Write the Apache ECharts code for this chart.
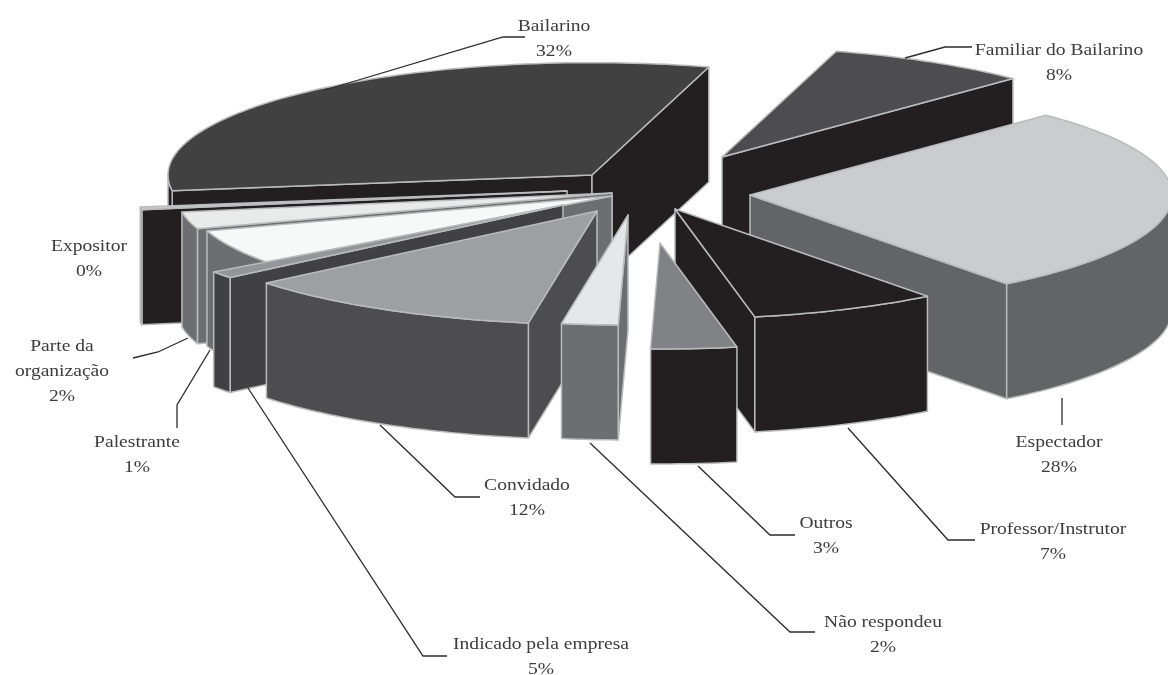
<!DOCTYPE html>
<html><head><meta charset="utf-8">
<style>html,body{margin:0;padding:0;background:#fff}#c{width:1168px;height:675px}</style>
<script src="https://cdn.jsdelivr.net/npm/echarts@6/dist/echarts.min.js"></script>
</head><body><div id="c"></div>
<script>
// ---- data, clockwise round the pie from the right edge of "Bailarino" ----
const categories = ['Familiar do Bailarino','Espectador','Professor/Instrutor','Outros','Não respondeu','Convidado','Palestrante','Indicado pela empresa','Parte da organização','Expositor','Bailarino'];
const values     = [8, 27.5, 7.4, 3.49, 2.21, 11.6, 1, 5, 2.4, 0.4, 32];

// ---- styling of each slice ----
const topColors  = ['#4d4d4f','#cbccce','#231f20','#808285','#e6e7e8','#9d9fa2','#939598','#f7f9f9','#e9ebea','#c8c9ca','#414142'];
const wallColors = ['#231f20','#636466','#231f20','#231f20','#6d6e71','#4d4d4f','#414042','#6d6e71','#6d6e71','#231f20','#231f20'];
const explodeX   = [97, 125, 50, 35, 3, -28, -62, -13, -13, -58, -33];
const explodeY   = [-38, 0, 14, 48, 20, 16, 10, 1, -2, -4, -20];
const radii      = [415, 422, 415, 400, 415, 428, 431, 426, 436, 431, 424];
const drawOrder  = [10, 0, 1, 2, 9, 8, 7, 6, 5, 4, 3];
const startAngle = 74, squash = 0.265, depth = 115;
const centreX = 625, centreY = 195;
const edgeColor = '#b9bbbd';

// ---- label layout ----
const labelLines = [
  ['Familiar do Bailarino','8%'],['Espectador','28%'],['Professor/Instrutor','7%'],['Outros','3%'],['Não respondeu','2%'],
  ['Convidado','12%'],['Palestrante','1%'],['Indicado pela empresa','5%'],['Parte da','organização','2%'],['Expositor','0%'],['Bailarino','32%']
];
const labelAnchors = [[1059,51],[1059,443],[1053,530],[826,524],[883,623],[527,486],[137,443],[541,645],[62,347],[89,247],[554,27]];
const leaders = [
  [[905,58],[945,47],[972,47]],
  [[1062,398],[1062,425]],
  [[848,428],[948,540],[975,540]],
  [[698,466],[770,535],[795,535]],
  [[590,443],[790,632],[815,632]],
  [[380,425],[455,497],[480,497]],
  [[210,350],[177,405],[177,428]],
  [[248,388],[423,656],[447,656]],
  [[188,338],[158,352],[133,358]],
  [],
  [[325,90],[503,37],[525,37]]
];

const total = values.reduce((a,b)=>a+b,0);
const ranges = []; let cursor = startAngle;
values.forEach(v=>{ const next = cursor - v/total*360; ranges.push([cursor,next]); cursor = next; });

function rim(i,deg,drop){
  const a = deg*Math.PI/180;
  return [centreX+explodeX[i]+radii[i]*Math.cos(a), centreY+explodeY[i]-radii[i]*squash*Math.sin(a)+(drop||0)];
}
function arc(i,a0,a1,drop){
  const n = Math.max(2,Math.ceil(Math.abs(a1-a0)/1.5)), p=[];
  for(let k=0;k<=n;k++) p.push(rim(i,a0+(a1-a0)*k/n,drop));
  return p;
}
function poly(points,fill,w){
  return {type:'polygon',shape:{points},style:{fill,stroke:edgeColor,lineWidth:w===undefined?1.5:w,lineJoin:'round'}};
}
function visibleFront(a0,a1){
  const parts=[];
  for(let b=-720;b<=360;b+=360){
    const hi=Math.min(a0,b), lo=Math.max(a1,b-180);
    if(hi>lo) parts.push([hi,lo]);
  }
  return parts;
}
function sliceShapes(i){
  const [a0,a1]=ranges[i], apex=[centreX+explodeX[i],centreY+explodeY[i]], apexLow=[apex[0],apex[1]+depth];
  const kids=[], wall=wallColors[i];
  if(Math.sin((a0+90)*Math.PI/180)<0) kids.push(poly([apex,rim(i,a0),rim(i,a0,depth),apexLow],wall));
  if(Math.sin((a1-90)*Math.PI/180)<0) kids.push(poly([apex,rim(i,a1),rim(i,a1,depth),apexLow],wall));
  visibleFront(a0,a1).forEach(([h,l])=>{
    kids.push(poly(arc(i,h,l,0).concat(arc(i,l,h,depth)),wall));
  });
  kids.push(poly([apex].concat(arc(i,a0,a1,0)),topColors[i]));
  return kids;
}

const chart = echarts.init(document.getElementById('c'),null,{renderer:'canvas'});
chart.setOption({
  animation:false,
  backgroundColor:'#ffffff',
  series:[
    {
      type:'custom',coordinateSystem:'none',silent:true,
      data:drawOrder.map(i=>({name:categories[i],value:[values[i],i]})),
      renderItem:(params,api)=>({type:'group',children:sliceShapes(api.value(1))})
    },
    {
      type:'custom',coordinateSystem:'none',silent:true,
      data:categories.map((c,i)=>({name:c,value:[values[i],i]})),
      renderItem:(params,api)=>{
        const i=api.value(1), kids=[];
        if(leaders[i].length) kids.push({type:'polyline',shape:{points:leaders[i]},style:{fill:null,stroke:'#2b2b2b',lineWidth:1.3}});
        labelLines[i].forEach((t,k)=>kids.push({type:'text',
          x:labelAnchors[i][0],y:labelAnchors[i][1]+k*25,scaleX:1.15,scaleY:1,
          style:{text:t,x:0,y:0,align:'center',verticalAlign:'middle',fill:'#3c3c3c',font:'17px "Liberation Serif"'}}));
        return {type:'group',children:kids};
      }
    }
  ]
});
</script></body></html>
